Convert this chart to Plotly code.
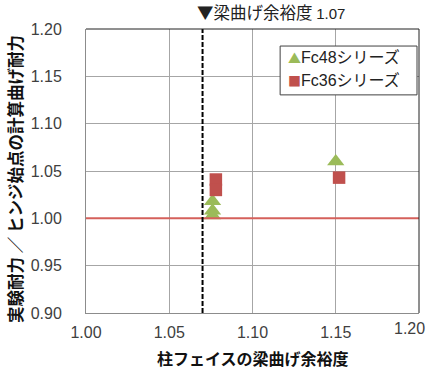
import plotly.graph_objects as go

# Column-face beam flexural margin (x) vs. test strength / calculated hinge strength (y)
fc48_x = [1.076, 1.076, 1.076, 1.150]
fc48_y = [1.018, 1.008, 1.003, 1.060]
fc36_x = [1.078, 1.078, 1.152]
fc36_y = [1.041, 1.030, 1.043]

series_names = ["Fc48シリーズ", "Fc36シリーズ"]
series_colors = ["#9BBB59", "#C0504D"]
series_glyphs = ["▲", "■"]
beam_margin = 1.07
reference_ratio = 1.00

x_ticks = [1.00, 1.05, 1.10, 1.15, 1.20]
y_ticks = [0.90, 0.95, 1.00, 1.05, 1.10, 1.15, 1.20]

JP = "Noto Sans CJK JP"
NUM = "Liberation Sans, Arial"
MIXED = "Liberation Sans, Noto Sans CJK JP"

fig = go.Figure()

fig.add_trace(go.Scatter(
    x=fc48_x, y=fc48_y, mode="markers", name=series_names[0],
    marker=dict(symbol="triangle-up", size=15, color=series_colors[0], line=dict(width=0)),
))
fig.add_trace(go.Scatter(
    x=fc36_x, y=fc36_y, mode="markers", name=series_names[1],
    marker=dict(symbol="square", size=12.5, color=series_colors[1], line=dict(width=0)),
))

# horizontal reference at ratio 1.00
fig.add_shape(type="line", xref="paper", yref="y", x0=0, x1=1,
              y0=reference_ratio, y1=reference_ratio,
              line=dict(color="#D5605B", width=2))
# beam flexural margin marker
fig.add_shape(type="line", xref="x", yref="paper", x0=beam_margin, x1=beam_margin,
              y0=0, y1=1, line=dict(color="#000000", width=2, dash="5px,2px"))
# darker frame on top and right edges
fig.add_shape(type="line", xref="paper", yref="paper", x0=0, x1=1, y0=1, y1=1,
              line=dict(color="#202020", width=1))
fig.add_shape(type="line", xref="paper", yref="paper", x0=1, x1=1, y0=0, y1=1,
              line=dict(color="#202020", width=1))

# legend box with glyph keys
fig.add_shape(type="rect", xref="paper", yref="paper", x0=0.583, x1=0.994, y0=0.768, y1=0.940,
              line=dict(color="#404040", width=1), fillcolor="white", layer="above")
for name, color, glyph, ypos in zip(series_names, series_colors, series_glyphs, [0.899, 0.818]):
    fig.add_annotation(
        x=0.601, xref="paper", y=ypos, yref="paper", xanchor="left", yanchor="middle",
        showarrow=False,
        text=f"<span style='color:{color};font-family:{JP};font-size:13px'>{glyph}</span>{name}",
        font=dict(family=MIXED, size=16, color="#222222"),
    )

fig.add_annotation(
    x=beam_margin, xref="x", y=1, yref="paper", yshift=3,
    xanchor="left", yanchor="bottom", xshift=-8, showarrow=False,
    text=f"▼梁曲げ余裕度 <span style='font-family:{NUM};font-size:15px'>{beam_margin:.2f}</span>",
    font=dict(family=JP, size=16.5, color="#222222"),
)

fig.add_annotation(
    x=0, xref="paper", xshift=-71, y=0.5, yref="paper", yshift=-8,
    textangle=-90, showarrow=False, xanchor="center", yanchor="middle",
    text="<b>実験耐力 ／ ヒンジ始点の計算曲げ耐力</b>",
    font=dict(family=JP, size=16.5, color="#111111"),
)
fig.add_annotation(
    x=0.5, xref="paper", y=0, yref="paper", yshift=-45,
    showarrow=False, xanchor="center", yanchor="middle",
    text="<b>柱フェイスの梁曲げ余裕度</b>",
    font=dict(family=JP, size=16, color="#111111"),
)

# the last x tick label sits inside the figure edge, so it is placed separately
x_labels = [f"{v:.2f}" for v in x_ticks]
fig.add_annotation(
    x=x_ticks[-1], xref="x", y=0, yref="paper", yshift=-5, xshift=8,
    xanchor="right", yanchor="top", showarrow=False,
    text=x_labels[-1], font=dict(family=NUM, size=16, color="#404040"),
)
x_labels[-1] = ""

fig.update_xaxes(
    range=[1.0, 1.2], tickvals=x_ticks, ticktext=x_labels, automargin=False,
    showgrid=True, gridcolor="#A6A6A6", gridwidth=1,
    showline=True, linecolor="#8C8C8C", linewidth=1, mirror=False,
    zeroline=False, ticks="", ticklabelstandoff=5,
    tickfont=dict(family=NUM, size=16, color="#404040"),
)
fig.update_yaxes(
    range=[0.9, 1.2], tickvals=y_ticks, ticktext=[f"{v:.2f}" for v in y_ticks],
    automargin=False,
    showgrid=True, gridcolor="#A6A6A6", gridwidth=1,
    showline=True, linecolor="#8C8C8C", linewidth=1, mirror=False,
    zeroline=False, ticks="", ticklabelstandoff=20,
    tickfont=dict(family=NUM, size=16, color="#404040"),
)

fig.update_layout(
    width=433, height=369,
    margin=dict(l=86, r=14, t=29, b=56),
    paper_bgcolor="white", plot_bgcolor="white",
    showlegend=False,
)

fig.write_html("out.html")
